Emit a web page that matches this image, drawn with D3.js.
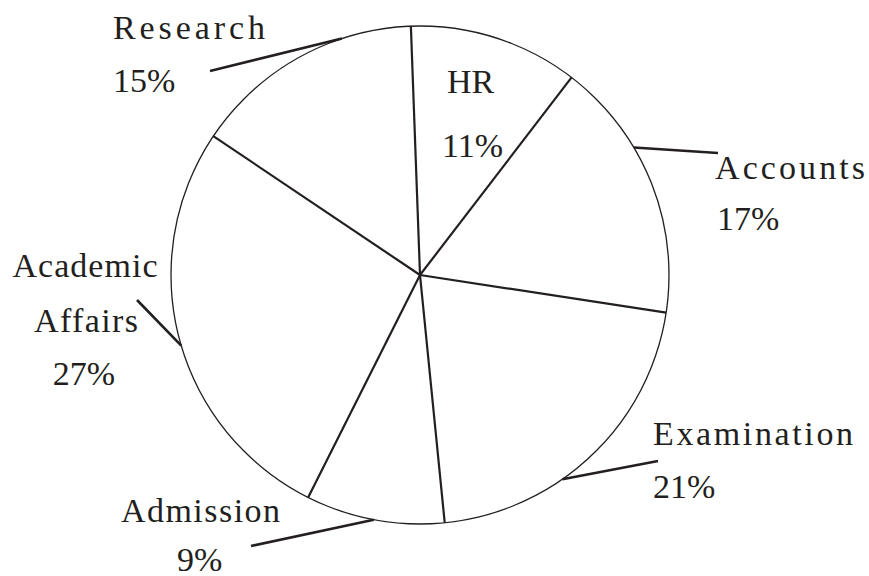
<!DOCTYPE html>
<html>
<head>
<meta charset="utf-8">
<script src="https://cdn.jsdelivr.net/npm/d3@7"></script>
<style>
  html, body { margin: 0; padding: 0; background: #fff; }
</style>
</head>
<body>
<script>
// departments, clockwise from the top
const categories = ["HR", "Accounts", "Examination", "Admission", "Academic Affairs", "Research"];
const shares = [11, 17, 21, 9, 27, 15];

const width = 869,
      height = 576,
      cx = 420,
      cy = 275,
      radius = 249,
      fontSize = 34,
      fontFamily = "'Liberation Serif', serif",
      ink = "#231f20";

// where each label sits: [text, x, y, drawn width] (layout only)
const labelLayout = {
  "HR":               { names: [["HR", 447, 93, 0]], pct: [442, 157], anchor: "start" },
  "Accounts":         { names: [["Accounts", 715, 179, 150]], pct: [717, 230], anchor: "start",
                        leader: { angle: 59.2, to: [718, 153] } },
  "Examination":      { names: [["Examination", 653, 445, 200]], pct: [653, 498], anchor: "start",
                        leader: { angle: 145.1, to: [658, 461] } },
  "Admission":        { names: [["Admission", 121, 522, 159]], pct: [177, 571], anchor: "start",
                        leader: { angle: 190.7, to: [251, 546] } },
  "Academic Affairs": { names: [["Academic", 85, 277, 145], ["Affairs", 86, 332, 104]], pct: [84, 385], anchor: "middle",
                        leader: { angle: 253.5, to: [137, 300] } },
  "Research":         { names: [["Research", 113, 39, 152]], pct: [113, 92], anchor: "start",
                        leader: { angle: -18.3, to: [210, 71] } }
};

const data = categories.map((c, i) => ({ name: c, value: shares[i] }));
const rad = (deg) => deg * Math.PI / 180;

const svg = d3.select("body")
  .append("svg")
  .attr("width", width)
  .attr("height", height);

const pie = d3.pie()
  .value((d) => d.value)
  .sort(null)
  .startAngle(rad(-2.1))
  .endAngle(rad(-2.1) + 2 * Math.PI);

const arcs = pie(data);
const arc = d3.arc().innerRadius(0).outerRadius(radius);

const g = svg.append("g")
  .attr("transform", "translate(" + cx + "," + cy + ")");

g.selectAll("path.slice")
  .data(arcs)
  .enter()
  .append("path")
  .attr("class", "slice")
  .attr("d", arc)
  .attr("fill", "#fff");

// radial dividers
g.selectAll("line.divider")
  .data(arcs)
  .enter()
  .append("line")
  .attr("class", "divider")
  .attr("x1", 0)
  .attr("y1", 0)
  .attr("x2", (d) => d3.pointRadial(d.startAngle, radius)[0])
  .attr("y2", (d) => d3.pointRadial(d.startAngle, radius)[1])
  .attr("stroke", ink)
  .attr("stroke-width", 2.2);

g.append("circle")
  .attr("r", radius)
  .attr("fill", "none")
  .attr("stroke", ink)
  .attr("stroke-width", 1.3);

// leader lines
const leaders = data.filter((d) => labelLayout[d.name].leader);
svg.selectAll("line.leader")
  .data(leaders)
  .enter()
  .append("line")
  .attr("class", "leader")
  .attr("x1", (d) => cx + d3.pointRadial(rad(labelLayout[d.name].leader.angle), radius)[0])
  .attr("y1", (d) => cy + d3.pointRadial(rad(labelLayout[d.name].leader.angle), radius)[1])
  .attr("x2", (d) => labelLayout[d.name].leader.to[0])
  .attr("y2", (d) => labelLayout[d.name].leader.to[1])
  .attr("stroke", ink)
  .attr("stroke-width", 2.6);

// labels
data.forEach((d) => {
  const L = labelLayout[d.name];
  L.names.forEach((n) => {
    const t = svg.append("text")
      .attr("x", n[1])
      .attr("y", n[2])
      .attr("text-anchor", L.anchor)
      .style("font-family", fontFamily)
      .style("font-size", fontSize + "px")
      .style("fill", ink)
      .text(n[0]);
    if (n[3]) t.attr("textLength", n[3]).attr("lengthAdjust", "spacing");
  });
  svg.append("text")
    .attr("x", L.pct[0])
    .attr("y", L.pct[1])
    .attr("text-anchor", L.anchor)
    .style("font-family", fontFamily)
    .style("font-size", fontSize + "px")
    .style("fill", ink)
    .text(d.value + "%");
});
</script>
</body>
</html>
